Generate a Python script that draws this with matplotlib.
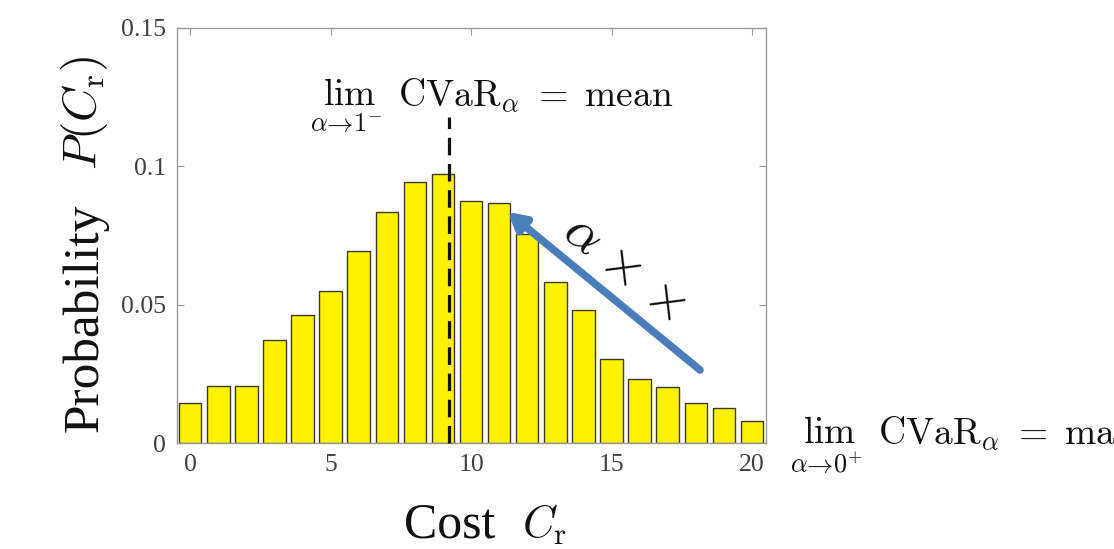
import matplotlib
matplotlib.use("Agg")
import matplotlib.pyplot as plt

plt.rcParams['font.family'] = ['Liberation Serif', 'DejaVu Serif']
plt.rcParams['mathtext.fontset'] = 'cm'

cost = list(range(21))
prob = [0.0145, 0.0205, 0.0206, 0.0372, 0.0464, 0.0548, 0.0693, 0.0834,
        0.0944, 0.0973, 0.0875, 0.0868, 0.0754, 0.0583, 0.0480, 0.0302,
        0.0232, 0.0203, 0.0143, 0.0128, 0.0081]
mean_cost = 9.23
mean_line_top = 0.118
xticks = [0, 5, 10, 15, 20]
yticks = [0, 0.05, 0.1, 0.15]
ytick_labels = ['0', '0.05', '0.1', '0.15']
arrow_tail = (18.15, 0.0264)
arrow_head = (11.3, 0.0835)

W, H = 1114, 549
fig = plt.figure(figsize=(W / 100, H / 100), dpi=100)
ax = fig.add_axes([177 / W, 1 - 443 / H, 589 / W, 415 / H])

ax.bar(cost, prob, width=0.8, color='#fff200', edgecolor='#3a3a2a', linewidth=1.0, zorder=2)
ax.plot([mean_cost, mean_cost], [0, mean_line_top], color='#111111',
        linestyle=(0, (5.5, 2.7)), linewidth=2.3, zorder=3, clip_on=False)

ax.annotate('', xy=arrow_head, xytext=arrow_tail,
            arrowprops=dict(arrowstyle='-|>,head_length=1.0,head_width=0.55',
                            color='#4a7ebb', lw=5.5, shrinkA=0, shrinkB=0), zorder=4)

ax.set_xlim(-0.47, 20.5)
ax.set_ylim(0, 0.15)
ax.set_xticks(xticks)
ax.set_xticklabels([str(t) for t in xticks])
ax.set_yticks(yticks)
ax.set_yticklabels(ytick_labels)

for s in ax.spines.values():
    s.set_color('#9a9a9a')
    s.set_linewidth(1.0)
ax.tick_params(direction='in', length=5, width=0.8, color='#9a9a9a',
               top=True, right=True, labelsize=18.5, labelcolor='#404040', pad=8)

# y label (word + math, separate sizes)
fig.text(85 / W, 1 - 318 / H, 'Probability', fontsize=37, rotation=90,
         ha='center', va='center', color='#111111')
fig.text(85 / W, 1 - 113 / H, r'$P(C_{\mathrm{r}})$', fontsize=34, rotation=90,
         ha='center', va='center', color='#111111')
# x label
fig.text(450 / W, 1 - 537 / H, 'Cost', fontsize=36, ha='center', va='baseline',
         color='#111111')
fig.text(544 / W, 1 - 537 / H, r'$C_{\mathrm{r}}$', fontsize=32, ha='center', va='baseline',
         color='#111111')

fig.text(310 / W, 1 - 107 / H, r'$\lim_{\alpha\to 1^{-}}\ \mathrm{CVaR}_{\alpha}\ =\ \mathrm{mean}$',
         fontsize=27, ha='left', va='baseline', color='#111111')
fig.text(790 / W, 1 - 445 / H, r'$\lim_{\alpha\to 0^{+}}\ \mathrm{CVaR}_{\alpha}\ =\ \mathrm{max}$',
         fontsize=27, ha='left', va='baseline', color='#111111')
fig.text(623 / W, 1 - 268 / H, r'$\alpha\;{\times}\;{\times}$', fontsize=39,
         rotation=-38, ha='center', va='center', rotation_mode='anchor', color='#111111')

fig.savefig('out.png', dpi=100)
